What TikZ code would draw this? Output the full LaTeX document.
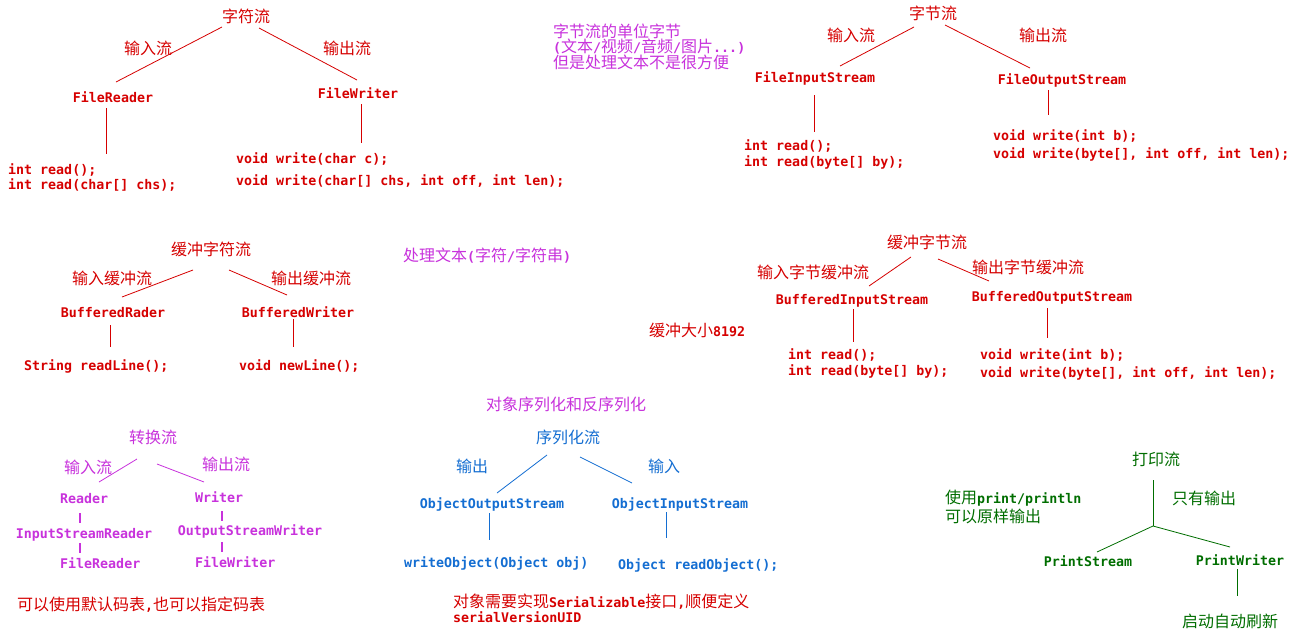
\documentclass[tikz,border=0pt]{standalone}
\usepackage{fontspec}
\setmonofont{DejaVu Sans Mono}
\newfontfamily\cjf{Noto Sans CJK SC}
\newcommand\cjt{\cjf\fontsize{16}{18}\selectfont}
\newcommand\codef{\ttfamily\bfseries\fontsize{13.3}{15}\selectfont}
\definecolor{rd}{RGB}{214,0,0}
\definecolor{mg}{RGB}{200,50,220}
\definecolor{bl}{RGB}{20,110,210}
\definecolor{gn}{RGB}{0,110,0}
\tikzset{
  cjk/.style={font=\cjt, inner sep=0pt},
  code/.style={font=\codef, inner sep=0pt},
  lft/.style={anchor=west},
  ln/.style={line width=0.8pt},
  bar/.style={line width=2.4pt}
}
\begin{document}
\begin{tikzpicture}[x=1pt,y=-1pt]
\useasboundingbox (0,0) rectangle (1296,635);
\fill[white] (0,0) rectangle (1296,635);

% ---------- Section 1: 字符流 ----------
\begin{scope}[rd]
\node[cjk] (s1) at (246,16) {字符流};
\node[cjk] (s1i) at (148,48) {输入流};
\node[cjk] (s1o) at (347,48) {输出流};
\node[code] (fr) at (113,97) {FileReader};
\node[code] (fw) at (358,93) {FileWriter};
\node[code,lft] (fr1) at (8,170) {int read();};
\node[code,lft] (fr2) at (8,185) {int read(char[] chs);};
\node[code,lft] (fw1) at (236,159) {void write(char c);};
\node[code,lft] (fw2) at (236,181) {void write(char[] chs, int off, int len);};
\coordinate (a1) at (222,27); \coordinate (a2) at (116,82);
\coordinate (a3) at (259,28); \coordinate (a4) at (357,80);
\coordinate (a5) at (106,108); \coordinate (a6) at (106,154);
\coordinate (a7) at (361,104); \coordinate (a8) at (361,143);
\draw[ln] (a1) -- (a2);
\draw[ln] (a3) -- (a4);
\draw[ln] (a5) -- (a6);
\draw[ln] (a7) -- (a8);
\end{scope}

% ---------- Section 2: note ----------
\begin{scope}[mg]
\node[cjk,lft] (n1) at (553,31) {字节流的单位字节};
\node[cjk,lft] (n2) at (553,47) {{\codef(}文本{\codef/}视频{\codef/}音频{\codef/}图片{\codef...)}};
\node[cjk,lft] (n3) at (553,62) {但是处理文本不是很方便};
\end{scope}

% ---------- Section 3: 字节流 ----------
\begin{scope}[rd]
\node[cjk] (s3) at (933,13) {字节流};
\node[cjk] (s3i) at (851,35) {输入流};
\node[cjk] (s3o) at (1043,35) {输出流};
\node[code] (fis) at (815,78) {FileInputStream};
\node[code] (fos) at (1062,80) {FileOutputStream};
\node[code,lft] (fis1) at (744,146) {int read();};
\node[code,lft] (fis2) at (744,162) {int read(byte[] by);};
\node[code,lft] (fos1) at (993,136) {void write(int b);};
\node[code,lft] (fos2) at (993,154) {void write(byte[], int off, int len);};
\coordinate (b1) at (914,27); \coordinate (b2) at (840,66);
\coordinate (b3) at (945,25); \coordinate (b4) at (1030,68);
\coordinate (b5) at (814,95); \coordinate (b6) at (814,132);
\coordinate (b7) at (1048,90); \coordinate (b8) at (1048,115);
\draw[ln] (b1) -- (b2);
\draw[ln] (b3) -- (b4);
\draw[ln] (b5) -- (b6);
\draw[ln] (b7) -- (b8);
\end{scope}

% ---------- Section 4: 缓冲字符流 ----------
\begin{scope}[rd]
\node[cjk] (s4) at (211,249) {缓冲字符流};
\node[cjk] (s4i) at (112,278) {输入缓冲流};
\node[cjk] (s4o) at (311,278) {输出缓冲流};
\node[code] (br) at (113,313) {BufferedRader};
\node[code] (bw) at (298,312) {BufferedWriter};
\node[code,lft] (br1) at (24,366) {String readLine();};
\node[code,lft] (bw1) at (239,366) {void newLine();};
\coordinate (c1) at (193,270); \coordinate (c2) at (122,297);
\coordinate (c3) at (229,270); \coordinate (c4) at (287,295);
\coordinate (c5) at (110,325); \coordinate (c6) at (110,347);
\coordinate (c7) at (293,319); \coordinate (c8) at (293,347);
\draw[ln] (c1) -- (c2);
\draw[ln] (c3) -- (c4);
\draw[ln] (c5) -- (c6);
\draw[ln] (c7) -- (c8);
\end{scope}
\node[cjk,lft,mg] (n4) at (403,256) {处理文本{\codef(}字符{\codef/}字符串{\codef)}};

% ---------- Section 5: 缓冲字节流 ----------
\begin{scope}[rd]
\node[cjk] (s5) at (927,242) {缓冲字节流};
\node[cjk] (s5i) at (813,272) {输入字节缓冲流};
\node[cjk] (s5o) at (1028,267) {输出字节缓冲流};
\node[code] (bis) at (852,301) {BufferedInputStream};
\node[code] (bos) at (1052,298) {BufferedOutputStream};
\node[cjk,lft] (n5) at (649,330) {缓冲大小{\codef 8192}};
\node[code,lft] (bis1) at (788,355) {int read();};
\node[code,lft] (bis2) at (788,371) {int read(byte[] by);};
\node[code,lft] (bos1) at (980,355) {void write(int b);};
\node[code,lft] (bos2) at (980,373) {void write(byte[], int off, int len);};
\coordinate (d1) at (911,257); \coordinate (d2) at (869,286);
\coordinate (d3) at (938,259); \coordinate (d4) at (989,281);
\coordinate (d5) at (853,309); \coordinate (d6) at (853,342);
\coordinate (d7) at (1047,308); \coordinate (d8) at (1047,338);
\draw[ln] (d1) -- (d2);
\draw[ln] (d3) -- (d4);
\draw[ln] (d5) -- (d6);
\draw[ln] (d7) -- (d8);
\end{scope}

% ---------- Section 6: 转换流 ----------
\begin{scope}[mg]
\node[cjk] (s6) at (153,437) {转换流};
\node[cjk] (s6i) at (88,467) {输入流};
\node[cjk] (s6o) at (226,464) {输出流};
\node[code,lft] (rdr) at (60,499) {Reader};
\node[code] (isr) at (84,535) {InputStreamReader};
\node[code,lft] (frd) at (60,563) {FileReader};
\node[code,lft] (wtr) at (195,497) {Writer};
\node[code] (osw) at (250,531) {OutputStreamWriter};
\node[code,lft] (fwr) at (195,562) {FileWriter};
\coordinate (e1) at (137,459); \coordinate (e2) at (99,482);
\coordinate (e3) at (157,464); \coordinate (e4) at (204,482);
\draw[ln] (e1) -- (e2);
\draw[ln] (e3) -- (e4);
\coordinate (r1) at (80,513); \coordinate (r2) at (80,523);
\coordinate (r3) at (80,543); \coordinate (r4) at (80,553);
\coordinate (w1) at (222,511); \coordinate (w2) at (222,521);
\coordinate (w3) at (222,542); \coordinate (w4) at (222,552);
\draw[bar] (r1) -- (r2);
\draw[bar] (r3) -- (r4);
\draw[bar] (w1) -- (w2);
\draw[bar] (w3) -- (w4);
\end{scope}
\node[cjk,lft,rd] (n6) at (17,605) {可以使用默认码表{\codef,}也可以指定码表};

% ---------- Section 7: 序列化流 ----------
\node[cjk,mg] (t7) at (566,404) {对象序列化和反序列化};
\begin{scope}[bl]
\node[cjk] (s7) at (568,437) {序列化流};
\node[cjk] (s7o) at (472,466) {输出};
\node[cjk] (s7i) at (664,466) {输入};
\node[code] (oos) at (492,504) {ObjectOutputStream};
\node[code] (ois) at (680,504) {ObjectInputStream};
\node[code,lft] (oos1) at (404,563) {writeObject(Object obj)};
\node[code,lft] (ois1) at (618,565) {Object readObject();};
\coordinate (f1) at (547,455); \coordinate (f2) at (497,493);
\coordinate (f3) at (580,457); \coordinate (f4) at (632,483);
\coordinate (f5) at (489,513); \coordinate (f6) at (489,540);
\coordinate (f7) at (666,512); \coordinate (f8) at (666,538);
\draw[ln] (f1) -- (f2);
\draw[ln] (f3) -- (f4);
\draw[ln] (f5) -- (f6);
\draw[ln] (f7) -- (f8);
\end{scope}
\begin{scope}[rd]
\node[cjk,lft] (n7a) at (453,602) {对象需要实现{\codef Serializable}接口{\codef,}顺便定义};
\node[code,lft] (n7b) at (453,617) {serialVersionUID};
\end{scope}

% ---------- Section 8: 打印流 ----------
\begin{scope}[gn]
\node[cjk] (s8) at (1156,459) {打印流};
\node[cjk] (s8n) at (1204,498) {只有输出};
\node[code] (ps) at (1088,561) {PrintStream};
\node[code] (pw) at (1240,560) {PrintWriter};
\node[cjk] (pwn) at (1230,621) {启动自动刷新};
\node[cjk,lft] (n8a) at (945,498) {使用{\codef print/println}};
\node[cjk,lft] (n8b) at (945,516) {可以原样输出};
\coordinate (g1) at (1153,480); \coordinate (gj) at (1153,526);
\coordinate (g2) at (1097,552); \coordinate (g3) at (1230,547);
\coordinate (g4) at (1237,569); \coordinate (g5) at (1237,596);
\draw[ln] (g1) -- (gj);
\draw[ln] (gj) -- (g2);
\draw[ln] (gj) -- (g3);
\draw[ln] (g4) -- (g5);
\end{scope}
\end{tikzpicture}
\end{document}
